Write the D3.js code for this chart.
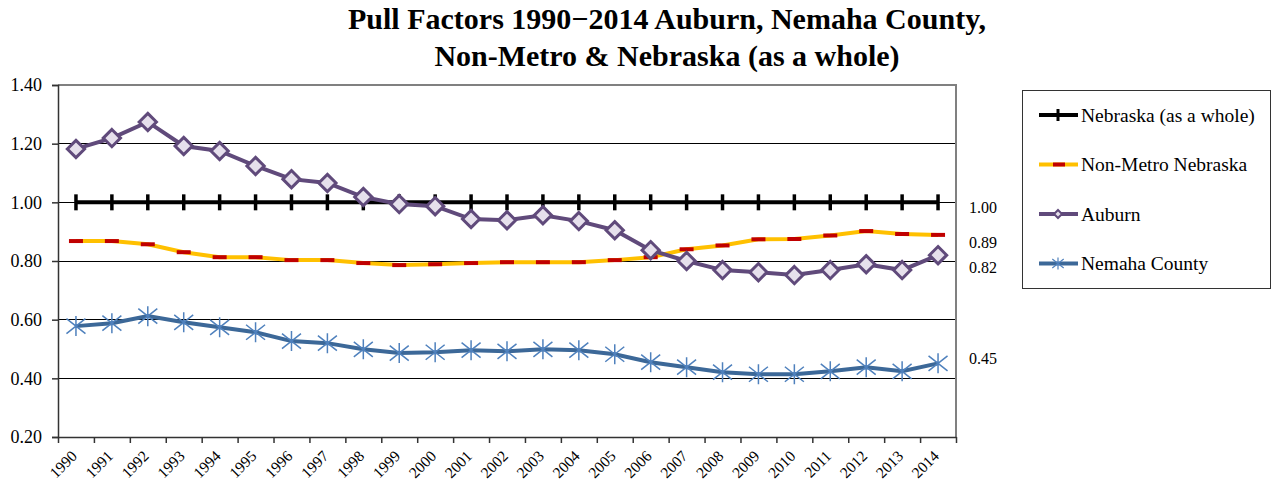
<!DOCTYPE html>
<meta charset="utf-8">
<head>
  <script src="https://d3js.org/d3.v7.min.js"></script>
</head>
<style>
  body { margin: 0; background: #fff; }
  text { font-family: "Liberation Serif", "Times New Roman", serif; fill: #000; }
</style>
<body>
<script>
// data
var years = ["1990","1991","1992","1993","1994","1995","1996","1997","1998","1999","2000","2001","2002",
  "2003","2004","2005","2006","2007","2008","2009","2010","2011","2012","2013","2014"];
var nebraska = years.map(function () { return 1.00; });
var nonMetro = [0.868,0.868,0.857,0.830,0.813,0.813,0.803,0.803,0.793,0.786,0.789,0.793,0.796,
  0.796,0.796,0.803,0.813,0.840,0.853,0.874,0.875,0.887,0.902,0.892,0.889];
var auburn = [1.182,1.219,1.274,1.192,1.175,1.124,1.079,1.066,1.018,0.994,0.987,0.943,0.939,
  0.956,0.936,0.905,0.837,0.800,0.769,0.762,0.752,0.769,0.789,0.769,0.820];
var nemaha = [0.578,0.588,0.612,0.591,0.574,0.557,0.527,0.520,0.499,0.486,0.489,0.496,0.492,
  0.499,0.496,0.482,0.455,0.438,0.421,0.414,0.414,0.424,0.438,0.424,0.451];
var yTicks = [0.20,0.40,0.60,0.80,1.00,1.20,1.40];
var endLabels = [1.00, 0.89, 0.82, 0.45];

var W = 1272, H = 485;
var m = { left: 58, right: 956, top: 85, bottom: 437 };

var svg = d3.select("body").append("svg")
  .attr("width", W).attr("height", H);

// title
var title = svg.append("text")
  .attr("text-anchor", "middle")
  .style("font-weight", "bold")
  .style("font-size", "30px");
title.append("tspan").attr("x", 667).attr("y", 29).text("Pull Factors 1990\u22122014 Auburn, Nemaha County,");
title.append("tspan").attr("x", 667).attr("y", 66).text("Non-Metro & Nebraska (as a whole)");

var x = d3.scaleBand().domain(years).range([m.left, m.right]);
var y = d3.scaleLinear().domain([0.2, 1.4]).range([m.bottom, m.top]);
var cx = function (d, i) { return x(years[i]) + x.bandwidth() / 2; };

// gridlines
svg.append("g").selectAll("line")
  .data(yTicks.filter(function (t) { return t > 0.2 && t < 1.4; }))
  .enter().append("line")
  .attr("x1", m.left).attr("x2", m.right)
  .attr("y1", function (d) { return y(d); }).attr("y2", function (d) { return y(d); })
  .attr("stroke", "#000").attr("stroke-width", 1).attr("shape-rendering", "crispEdges");

// top + right border
svg.append("path")
  .attr("d", "M" + m.left + "," + y(1.4) + "H" + m.right + "V" + m.bottom)
  .attr("fill", "none").attr("stroke", "#808080").attr("stroke-width", 1.5)
  .attr("shape-rendering", "crispEdges");

// y axis
var yAxis = svg.append("g")
  .attr("transform", "translate(" + m.left + ",0)")
  .call(d3.axisLeft(y).tickValues(yTicks).tickFormat(d3.format(".2f")).tickSize(6).tickPadding(10));
yAxis.selectAll("text").style("font-size", "18px").attr("font-family", null);
yAxis.selectAll("line, path").attr("stroke", "#333").attr("stroke-width", 1.5);

// x axis (ticks at category boundaries)
var xb = d3.scaleLinear().domain([0, years.length]).range([m.left, m.right]);
var xAxis = svg.append("g")
  .attr("transform", "translate(0," + m.bottom + ")")
  .call(d3.axisBottom(xb).tickValues(d3.range(years.length + 1)).tickFormat("").tickSize(6).tickSizeOuter(0));
xAxis.selectAll("line, path").attr("stroke", "#333").attr("stroke-width", 1.5);

svg.append("g").selectAll("text")
  .data(years).enter().append("text")
  .attr("text-anchor", "end")
  .attr("transform", function (d) {
    return "translate(" + (x(d) + x.bandwidth() / 2 + 2) + "," + (m.bottom + 20) + ") rotate(-45)";
  })
  .style("font-size", "15.5px")
  .text(function (d) { return d; });

var line = d3.line().x(cx).y(function (d) { return y(d); });

// Non-Metro Nebraska
svg.append("path").datum(nonMetro).attr("d", line)
  .attr("fill", "none").attr("stroke", "#FFC000").attr("stroke-width", 4);
svg.append("g").selectAll("line").data(nonMetro).enter().append("line")
  .attr("x1", function (d, i) { return cx(d, i) - 7; }).attr("x2", function (d, i) { return cx(d, i) + 7; })
  .attr("y1", function (d) { return y(d); }).attr("y2", function (d) { return y(d); })
  .attr("stroke", "#C00000").attr("stroke-width", 4);

// Nebraska
svg.append("path").datum(nebraska).attr("d", line)
  .attr("fill", "none").attr("stroke", "#000").attr("stroke-width", 4);
svg.append("g").selectAll("line").data(nebraska).enter().append("line")
  .attr("x1", cx).attr("x2", cx)
  .attr("y1", function (d) { return y(d) - 8; }).attr("y2", function (d) { return y(d) + 8; })
  .attr("stroke", "#000").attr("stroke-width", 3.5);

// Nemaha County
svg.append("path").datum(nemaha).attr("d", line)
  .attr("fill", "none").attr("stroke", "#3C6898").attr("stroke-width", 4);
svg.append("g").selectAll("path").data(nemaha).enter().append("path")
  .attr("d", starPath(10))
  .attr("transform", function (d, i) { return "translate(" + cx(d, i) + "," + y(d) + ")"; })
  .attr("fill", "none").attr("stroke", "#4F81BD").attr("stroke-width", 1.5);

// Auburn
svg.append("path").datum(auburn).attr("d", line)
  .attr("fill", "none").attr("stroke", "#604A7B").attr("stroke-width", 4);
svg.append("g").selectAll("path").data(auburn).enter().append("path")
  .attr("d", d3.symbol().type(d3.symbolDiamond2).size(190))
  .attr("transform", function (d, i) { return "translate(" + cx(d, i) + "," + y(d) + ")"; })
  .attr("fill", "#E6E0EC").attr("stroke", "#604A7B").attr("stroke-width", 3);

function starPath(r) {
  // vertical bar plus an X, like the Excel star marker
  var a = r * 0.95, b = r * 0.75;
  return "M0," + (-r) + "V" + r +
    "M" + (-a) + "," + (-b) + "L" + a + "," + b +
    "M" + (-a) + "," + b + "L" + a + "," + (-b);
}

// labels at right end
svg.append("g").selectAll("text").data(endLabels).enter().append("text")
  .attr("x", 969)
  .attr("y", function (d, i) { return [213, 248, 273, 364][i]; })
  .style("font-size", "16px")
  .text(function (d) { return d3.format(".2f")(d); });

// legend
var legendItems = [
  { name: "Nebraska (as a whole)", color: "#000", mark: "plus" },
  { name: "Non-Metro Nebraska", color: "#FFC000", mark: "dash" },
  { name: "Auburn", color: "#604A7B", mark: "diamond" },
  { name: "Nemaha County", color: "#3C6898", mark: "star" }
];
svg.append("rect")
  .attr("x", 1022.5).attr("y", 90.5).attr("width", 248).attr("height", 198)
  .attr("fill", "#fff").attr("stroke", "#333").attr("stroke-width", 1);
var lg = svg.append("g").selectAll("g").data(legendItems).enter().append("g")
  .attr("transform", function (d, i) { return "translate(1039," + (115 + i * 49.5) + ")"; });
lg.append("line").attr("x1", 0).attr("x2", 39)
  .attr("stroke", function (d) { return d.color; }).attr("stroke-width", 4);
lg.each(function (d) {
  var g = d3.select(this);
  if (d.mark === "plus") {
    g.append("line").attr("x1", 19).attr("x2", 19).attr("y1", -6).attr("y2", 6)
      .attr("stroke", "#000").attr("stroke-width", 3);
  } else if (d.mark === "dash") {
    g.append("line").attr("x1", 14).attr("x2", 26)
      .attr("stroke", "#C00000").attr("stroke-width", 4);
  } else if (d.mark === "diamond") {
    g.append("path").attr("d", d3.symbol().type(d3.symbolDiamond2).size(40))
      .attr("transform", "translate(19,0)")
      .attr("fill", "#E6E0EC").attr("stroke", "#604A7B").attr("stroke-width", 2);
  } else {
    g.append("path").attr("d", starPath(6)).attr("transform", "translate(19,0)")
      .attr("fill", "none").attr("stroke", "#4F81BD").attr("stroke-width", 1.2);
  }
});
lg.append("text").attr("x", 42).attr("y", 6.5)
  .style("font-size", "19.5px")
  .text(function (d) { return d.name; });
</script>
</body>
